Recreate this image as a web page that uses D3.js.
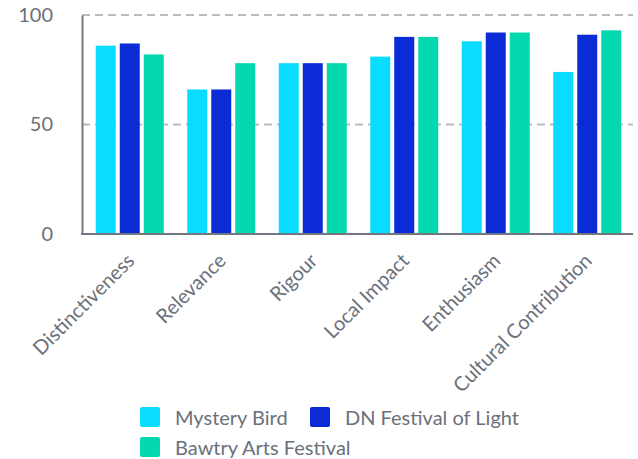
<!DOCTYPE html>
<html>
<head>
<meta charset="utf-8">
<script src="https://cdn.jsdelivr.net/npm/d3@7/dist/d3.min.js"></script>
<style>
  html, body { margin: 0; padding: 0; background: #fff; }
  svg { display: block; font-family: Lato, "Open Sans", sans-serif; }
</style>
</head>
<body>
<svg id="chart" width="638" height="459"></svg>
<script>
// Festival scores by criterion
const categories = ["Distinctiveness", "Relevance", "Rigour", "Local Impact", "Enthusiasm", "Cultural Contribution"];
const seriesNames = ["Mystery Bird", "DN Festival of Light", "Bawtry Arts Festival"];
const mysteryBird = [86, 66, 78, 81, 88, 74];
const dnFestivalOfLight = [87, 66, 78, 90, 92, 91];
const bawtryArtsFestival = [82, 78, 78, 90, 92, 93];
const seriesColors = ["#0adcff", "#0a2bd6", "#04d8ae"];
const yTicks = [0, 50, 100];

const seriesValues = [mysteryBird, dnFestivalOfLight, bawtryArtsFestival];

const svg = d3.select("#chart");
const textColor = "#6b717a";

const x0 = d3.scaleBand()
  .domain(categories)
  .range([84, 633])
  .paddingInner(0.257)
  .paddingOuter(0.1285);

const x1 = d3.scaleBand()
  .domain(seriesNames)
  .range([0, x0.bandwidth()])
  .paddingInner(0.1667)
  .paddingOuter(0);

const y = d3.scaleLinear().domain([0, 100]).range([234, 15]);

// dashed horizontal grid
svg.append("g")
  .selectAll("line")
  .data(yTicks.filter(d => d > 0))
  .join("line")
  .attr("x1", 82)
  .attr("x2", 633)
  .attr("y1", d => y(d))
  .attr("y2", d => y(d))
  .attr("stroke", "#b9bbbf")
  .attr("stroke-width", 2)
  .attr("stroke-dasharray", "8,5");

// y axis
const yAxis = svg.append("g")
  .attr("transform", "translate(82,0)")
  .call(d3.axisLeft(y).tickValues(yTicks).tickSize(0).tickPadding(29));
yAxis.select(".domain").attr("stroke", "#737880").attr("stroke-width", 2);
yAxis.selectAll("text")
  .attr("fill", textColor)
  .style("font-size", "20px")
  .style("font-family", "Lato, sans-serif");

// bars
const groups = svg.append("g")
  .selectAll("g")
  .data(categories)
  .join("g")
  .attr("transform", d => `translate(${x0(d)},0)`);

groups.selectAll("rect")
  .data((d, i) => seriesNames.map((s, j) => ({ series: s, value: seriesValues[j][i], color: seriesColors[j] })))
  .join("rect")
  .attr("x", d => x1(d.series))
  .attr("width", x1.bandwidth())
  .attr("y", d => y(d.value))
  .attr("height", d => y(0) - y(d.value))
  .attr("fill", d => d.color);

// x axis
const xAxis = svg.append("g")
  .attr("transform", `translate(0,${y(0)})`)
  .call(d3.axisBottom(x0).tickSize(0).tickSizeOuter(0).tickPadding(0));
xAxis.select(".domain").attr("stroke", "#737880").attr("stroke-width", 2)
  .attr("d", "M81,0H633");
xAxis.selectAll("text")
  .attr("fill", textColor)
  .style("font-size", "20px")
  .style("font-family", "Lato, sans-serif")
  .attr("text-anchor", "end")
  .attr("dy", null)
  .attr("y", 0)
  .attr("transform", "translate(6,28) rotate(-45)");

// legend
const legendItems = [
  { name: seriesNames[0], color: seriesColors[0], x: 140, y: 407 },
  { name: seriesNames[1], color: seriesColors[1], x: 310, y: 407 },
  { name: seriesNames[2], color: seriesColors[2], x: 140, y: 437 }
];
const legend = svg.append("g")
  .selectAll("g")
  .data(legendItems)
  .join("g")
  .attr("transform", d => `translate(${d.x},${d.y})`);
legend.append("rect")
  .attr("width", 20)
  .attr("height", 20)
  .attr("rx", 2)
  .attr("fill", d => d.color);
legend.append("text")
  .attr("x", 35)
  .attr("y", 18)
  .attr("fill", textColor)
  .style("font-size", "20px")
  .text(d => d.name);
</script>
</body>
</html>
